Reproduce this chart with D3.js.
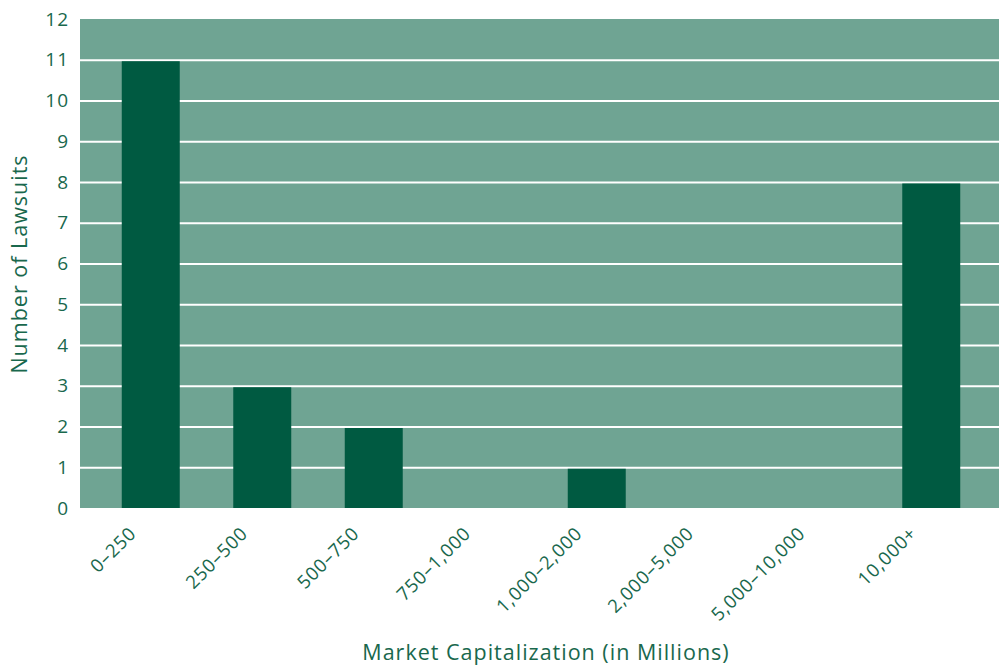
<!DOCTYPE html>
<html>
<head>
<meta charset="utf-8">
<script src="https://cdn.jsdelivr.net/npm/d3@7"></script>
<style>
  body { margin: 0; background: #fff; }
  text { font-family: "Open Sans", "Noto Sans", sans-serif; }
</style>
</head>
<body>
<div id="chart"></div>
<script>
const categories = ["0–250", "250–500", "500–750", "750–1,000", "1,000–2,000", "2,000–5,000", "5,000–10,000", "10,000+"];
const lawsuits = [11, 3, 2, 0, 1, 0, 0, 8];
const yTicks = [0, 1, 2, 3, 4, 5, 6, 7, 8, 9, 10, 11, 12];

const width = 999, height = 666;
const plot = {left: 80, right: 999, top: 19, bottom: 508};
const textColor = "#19684d";

const svg = d3.select("#chart")
  .append("svg")
  .attr("width", width)
  .attr("height", height);

const x = d3.scaleBand()
  .domain(categories)
  .range([95, 987])
  .paddingInner(0.48)
  .paddingOuter(0.24);

const y = d3.scaleLinear()
  .domain([0, 12])
  .range([plot.bottom, plot.top]);

// background of plot
svg.append("rect")
  .attr("x", plot.left)
  .attr("y", plot.top)
  .attr("width", plot.right - plot.left)
  .attr("height", plot.bottom - plot.top)
  .attr("fill", "#6fa493");

// gridlines + y tick labels
const yAxis = svg.append("g")
  .attr("transform", `translate(${plot.left},0)`)
  .call(d3.axisLeft(y).tickValues(yTicks).tickSize(-(plot.right - plot.left + 2)).tickPadding(11));
yAxis.select(".domain").remove();
yAxis.selectAll(".tick line")
  .attr("x1", plot.right - plot.left)
  .attr("x2", -2)
  .attr("stroke", "#fff")
  .attr("stroke-width", 2)
  .attr("stroke-opacity", d => d === 0 || d === 12 ? 0 : 1);
yAxis.selectAll(".tick text")
  .attr("fill", textColor)
  .style("font-size", "19px")
  .style("letter-spacing", "1px");

// bars
svg.append("g")
  .selectAll("rect")
  .data(categories)
  .enter().append("rect")
  .attr("x", d => x(d))
  .attr("width", x.bandwidth())
  .attr("y", (d, i) => y(lawsuits[i]) + 1.5)
  .attr("height", (d, i) => Math.max(0, y(0) - y(lawsuits[i]) - 1.5))
  .attr("fill", "#005a41");

// x labels
svg.append("g")
  .selectAll("text")
  .data(categories)
  .enter().append("text")
  .attr("transform", d => `translate(${x(d) + x.bandwidth() / 2 - 18},${plot.bottom + 22}) rotate(-45)`)
  .attr("text-anchor", "end")
  .attr("dy", "0.35em")
  .attr("fill", textColor)
  .style("font-size", "18.5px")
  .style("letter-spacing", "0.8px")
  .text(d => d);

// axis titles
svg.append("text")
  .attr("x", 546)
  .attr("y", 660)
  .attr("text-anchor", "middle")
  .attr("fill", textColor)
  .style("font-size", "21.5px")
  .style("letter-spacing", "1px")
  .text("Market Capitalization (in Millions)");

svg.append("text")
  .attr("transform", `translate(27,264) rotate(-90)`)
  .attr("text-anchor", "middle")
  .attr("fill", textColor)
  .style("font-size", "21.5px")
  .style("letter-spacing", "1px")
  .text("Number of Lawsuits");
</script>
</body>
</html>
